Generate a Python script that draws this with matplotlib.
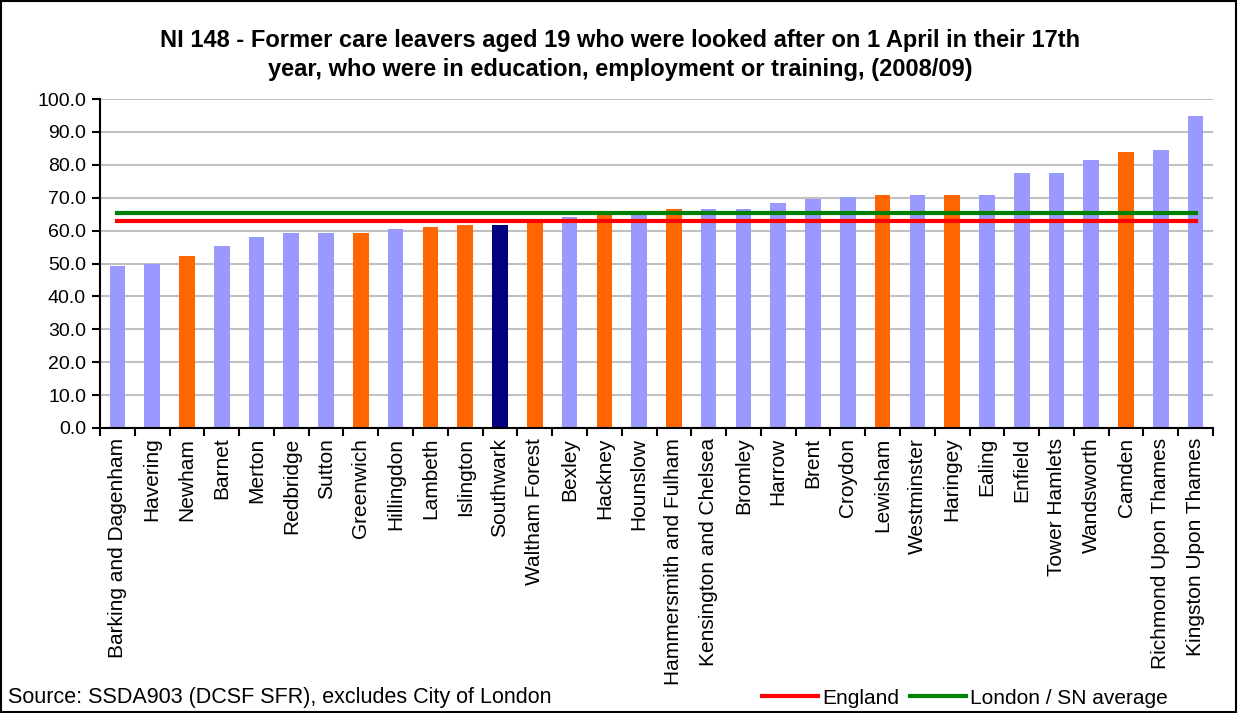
import matplotlib.pyplot as plt
from matplotlib.patches import Rectangle
from matplotlib.lines import Line2D

plt.rcParams['font.family'] = ['Liberation Sans', 'DejaVu Sans']

# data
boroughs = ["Barking and Dagenham", "Havering", "Newham", "Barnet", "Merton",
            "Redbridge", "Sutton", "Greenwich", "Hillingdon", "Lambeth",
            "Islington", "Southwark", "Waltham Forest", "Bexley", "Hackney",
            "Hounslow", "Hammersmith and Fulham", "Kensington and Chelsea",
            "Bromley", "Harrow", "Brent", "Croydon", "Lewisham", "Westminster",
            "Haringey", "Ealing", "Enfield", "Tower Hamlets", "Wandsworth",
            "Camden", "Richmond Upon Thames", "Kingston Upon Thames"]
values = [49.2, 50.0, 52.2, 55.3, 58.0, 59.2, 59.2, 59.2, 60.4, 61.0,
          61.6, 61.6, 63.0, 64.1, 65.0, 65.5, 66.5, 66.5, 66.5, 68.3,
          69.5, 70.1, 70.7, 70.7, 70.7, 70.7, 77.5, 77.5, 81.4, 83.8,
          84.5, 94.8]
# group: 0 = other London, 1 = statistical neighbour, 2 = Southwark
group = [0, 0, 1, 0, 0, 0, 0, 1, 0, 1,
         1, 2, 1, 0, 1, 0, 1, 0, 0, 0,
         0, 0, 1, 0, 1, 0, 0, 0, 0, 1,
         0, 0]
england = 62.9
london_sn = 65.3

colours = {0: "#9999FF", 1: "#FF6600", 2: "#000080"}

fig = plt.figure(figsize=(12.38, 7.13), dpi=100)
ax = fig.add_axes([100 / 1238, 1 - 428 / 713, 1113 / 1238, 329 / 713])

x = list(range(len(boroughs)))
ax.bar(x, values, width=0.45, color=[colours[g] for g in group], zorder=2)
ax.plot([x[0], x[-1]], [england, england], color="#FF0000", lw=3, zorder=3)
ax.plot([x[0], x[-1]], [london_sn, london_sn], color="#008000", lw=3, zorder=3)

ax.set_xlim(-0.5, len(boroughs) - 0.5)
ax.set_ylim(0, 100)
ax.set_yticks(range(0, 101, 10))
ax.set_yticklabels([f"{v:.1f}" for v in range(0, 101, 10)], fontsize=14)
ax.set_xticks(x)
ax.set_xticklabels(boroughs, rotation=90, fontsize=15)
ax.set_xticks([i - 0.5 for i in range(len(boroughs) + 1)], minor=True)
ax.tick_params(axis="x", which="major", length=0, pad=7)
ax.tick_params(axis="x", which="minor", length=6, width=1.5, direction="out")
ax.tick_params(axis="y", length=6, width=1.5, direction="out", pad=4)
ax.grid(axis="y", color="#C0C0C0", lw=1.5, zorder=0)
ax.set_axisbelow(True)
for s in ["top", "right"]:
    ax.spines[s].set_visible(False)
for s in ["left", "bottom"]:
    ax.spines[s].set_linewidth(1.5)

fig.text(620 / 1238, 1 - 55 / 713,
         "NI 148 - Former care leavers aged 19 who were looked after on 1 April in their 17th\n"
         "year, who were in education, employment or training, (2008/09)",
         ha="center", va="center", fontsize=17, fontweight="bold", linespacing=1.35)

fig.text(8 / 1238, 1 - 698 / 713, "Source: SSDA903 (DCSF SFR), excludes City of London",
         ha="left", va="center", fontsize=15.5)

handles = [Line2D([], [], color="#FF0000", lw=3), Line2D([], [], color="#008000", lw=3)]
fig.legend(handles, ["England", "London / SN average"], loc="center right",
           bbox_to_anchor=(1168 / 1238, 1 - 698 / 713), ncol=2, frameon=False,
           fontsize=15, handlelength=2.7, handletextpad=0.2, columnspacing=0.5,
           borderpad=0, borderaxespad=0)

fig.patches.append(Rectangle((0.001, 0.002), 0.997, 0.996, transform=fig.transFigure,
                             fill=False, edgecolor="black", lw=1.5))

fig.savefig("out.png", dpi=100)
